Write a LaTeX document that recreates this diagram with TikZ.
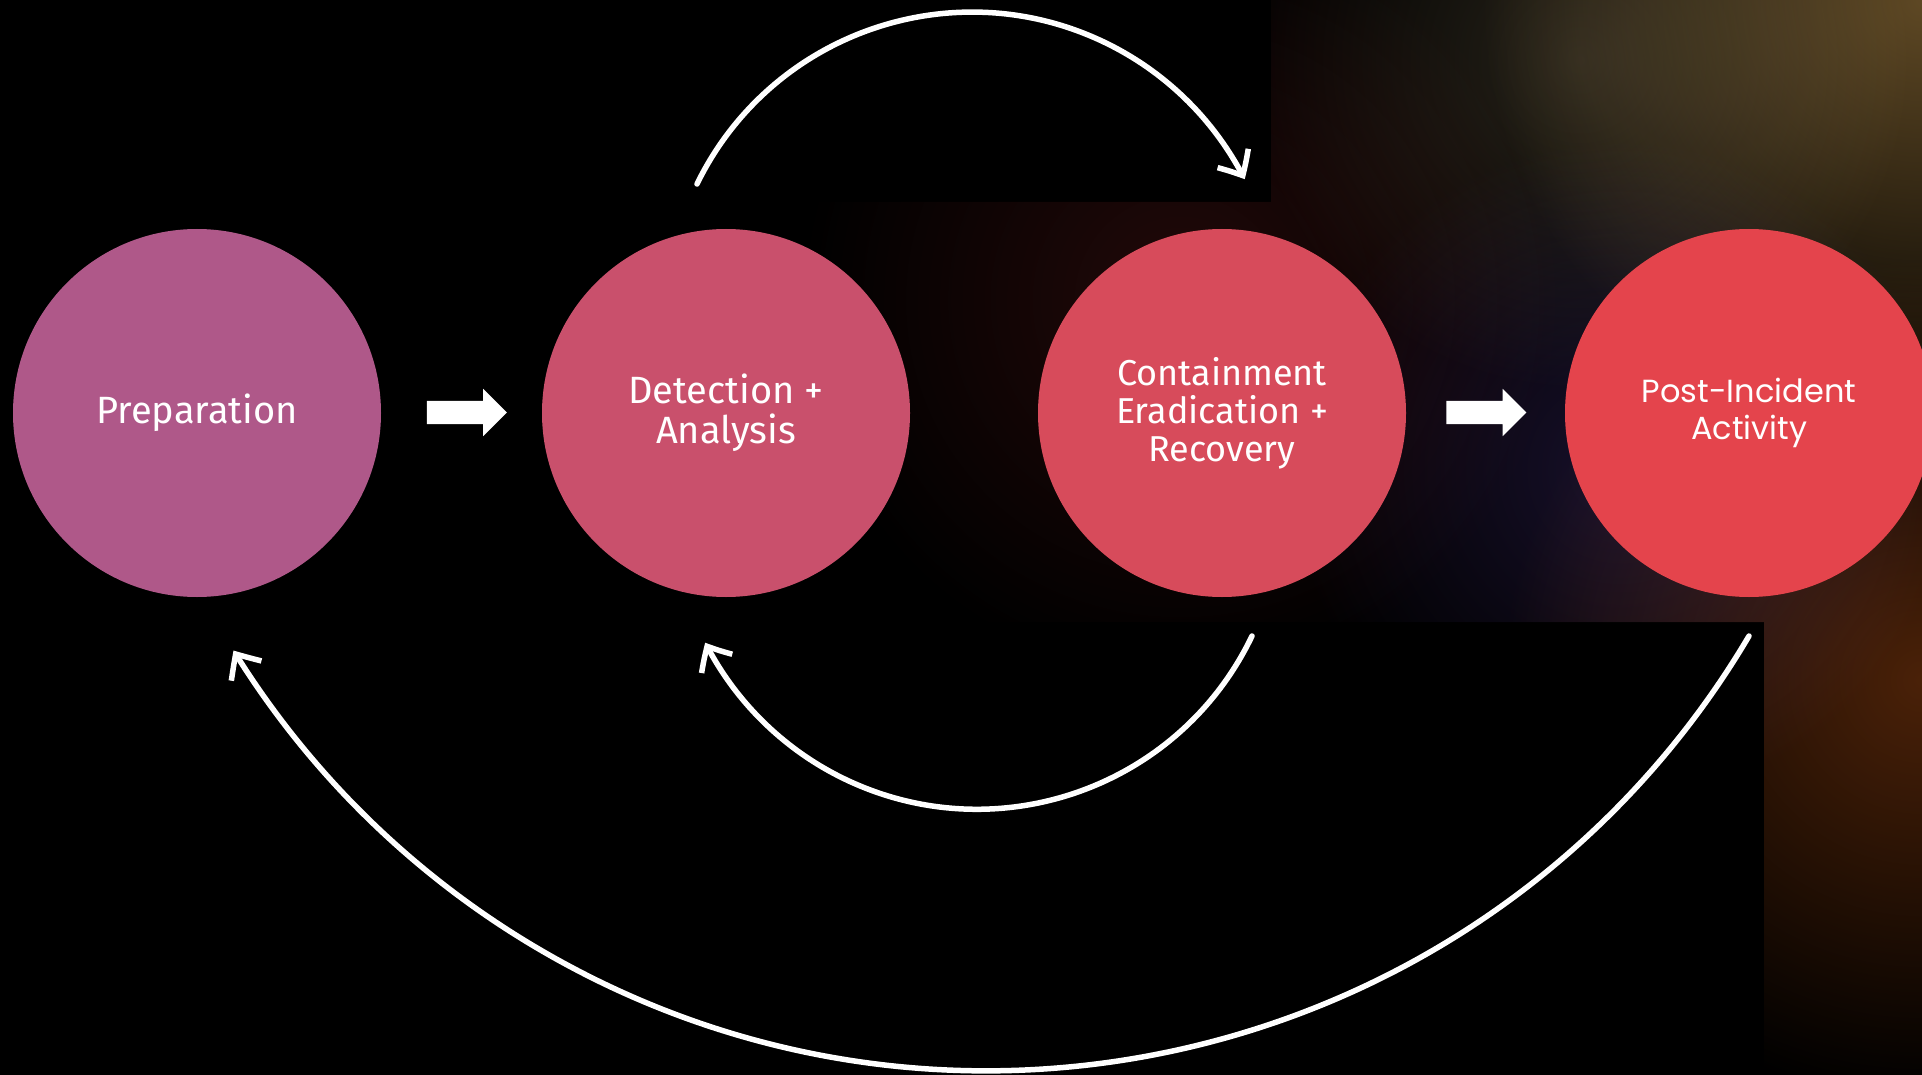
\documentclass[tikz,border=0pt]{standalone}
\usepackage{fontspec}
\setmainfont{Fira Sans}
\newfontfamily\postfont{Poppins}
\usetikzlibrary{arrows.meta,bending,shapes.arrows}
\definecolor{cPrep}{HTML}{AF5889}
\definecolor{cDet}{HTML}{C9506C}
\definecolor{cCont}{HTML}{D74B5B}
\definecolor{cPost}{HTML}{E4444C}
\definecolor{gTopR}{HTML}{5E4824}
\definecolor{gRight}{HTML}{4A2108}
\definecolor{gRed}{HTML}{220909}
\definecolor{gPurp}{HTML}{17102A}
\definecolor{gGrey}{HTML}{262219}
\tikzset{
  phase/.style={circle, minimum size=368pt, inner sep=0pt, text=white, align=center,
    font=\fontsize{38}{40}\selectfont},
  blockarrow/.style={single arrow, fill=white, draw=none, inner sep=0pt,
    text height=23pt, text depth=0pt, minimum height=80pt,
    single arrow head extend=12pt, single arrow tip angle=90},
  arcline/.style={draw=white, line width=5.5pt, line cap=round,
    -{Straight Barb[length=20pt,width=36pt,bend]}},
  glow/.style={blend mode=screen}
}
\begin{document}
\begin{tikzpicture}[x=1pt,y=1pt]
\useasboundingbox (0,0) rectangle (1922,-1075);
\fill[black] (0,0) rectangle (1922,-1075);
% background glow (outside the pasted black panels)
\begin{scope}
  \clip (1271,0) -- (1922,0) -- (1922,-1075) -- (1764,-1075) -- (1764,-622)
        -- (0,-622) -- (0,-202) -- (1271,-202) -- cycle;
  \shade[glow, inner color=gRed, outer color=black] (1180,-300) circle (380);
  \shade[glow, inner color=gPurp, outer color=black] (1620,-470) circle (330);
  \shade[glow, inner color=gGrey, outer color=black] (1580,-60) circle (330);
  \shade[glow, inner color=gTopR, outer color=black] (1922,0) circle (440);
  \shade[glow, inner color=gRight, outer color=black] (1922,-680) circle (420);
\end{scope}
% phases
\node[phase, fill=cPrep] (prep) at (197,-413) {Preparation};
\node[phase, fill=cDet]  (det)  at (726,-413) {Detection +\\Analysis};
\node[phase, fill=cCont, font=\fontsize{36}{38}\selectfont] (cont) at (1222,-413) {Containment\\Eradication +\\Recovery};
\node[phase, fill=cPost, font=\postfont\fontsize{32}{37}\selectfont] (post) at (1749,-413) {Post-Incident\\Activity};
% block arrows
\node[blockarrow] (arrA) at (461,-412.5) {};
\node[blockarrow] (arrB) at (1480.5,-412.5) {};
% loop arcs
\coordinate (topS) at (697,-184);
\coordinate (midS) at (1252,-636);
\coordinate (bigS) at (1749,-636);
\draw[arcline] (topS) arc[start angle=154, end angle=27, radius=306];
\draw[arcline] (midS) arc[start angle=-25.6, end angle=-153, radius=305];
\draw[arcline] (bigS) arc[start angle=-30.6, end angle=-148.3, radius=885.5];
\end{tikzpicture}
\end{document}
